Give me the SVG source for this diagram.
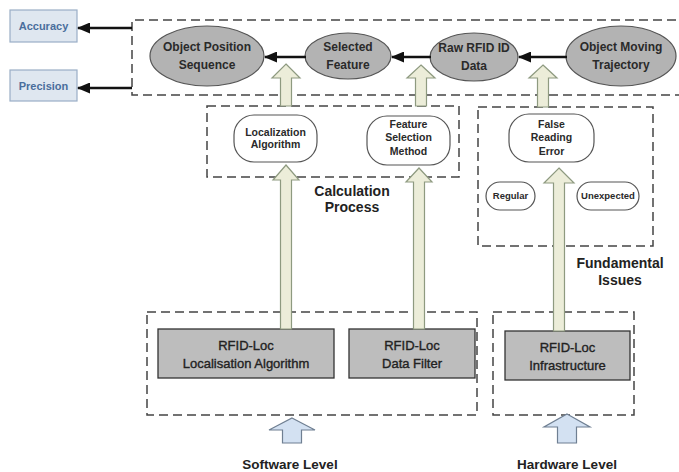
<svg xmlns="http://www.w3.org/2000/svg" width="679" height="472" viewBox="0 0 679 472">
<style>
text{font-family:"Liberation Sans",Arial,sans-serif;text-anchor:middle;}
.b{font-weight:bold;fill:#222;}
.dash{fill:none;stroke:#444;stroke-width:1.5;stroke-dasharray:9 5;}
.ell{fill:#b3b3b3;stroke:#555;stroke-width:1.2;}
.rr{fill:#fff;stroke:#555;stroke-width:1.2;}
.gr{fill:#bdbdbd;stroke:#333;stroke-width:1.3;}
.qual{fill:#dfe7f0;stroke:#9aaec6;stroke-width:1.2;}
.qt{font-weight:bold;fill:#4a6e9c;font-size:11px;}
.et{font-weight:bold;fill:#2a2a2a;font-size:12px;}
.st{font-weight:bold;fill:#2a2a2a;font-size:10.5px;}
.gt{fill:#222;font-size:13px;stroke:#222;stroke-width:0.35;}
.grn{fill:#ecedd9;stroke:#8e9a80;stroke-width:1.2;}
.blu{fill:#d3e1f2;stroke:#6f7f92;stroke-width:1.2;}
.con{stroke:#111;stroke-width:2.5;fill:none;marker-end:url(#ah);}
</style>
<defs>
<marker id="ah" markerUnits="userSpaceOnUse" markerWidth="13" markerHeight="11" refX="12" refY="5.5" orient="auto">
<path d="M0,0 L13,5.5 L0,11 Z" fill="#111"/>
</marker>
</defs>
<rect width="679" height="472" fill="#fff"/>

<g id="containers">
<path class="dash" d="M690,20 H132 V95 H690"/>
<rect class="dash" x="207" y="106" width="252" height="71"/>
<rect class="dash" x="478" y="107" width="175" height="139"/>
<rect class="dash" x="147" y="312" width="330" height="103"/>
<rect class="dash" x="493" y="312" width="141" height="103"/>
</g>

<g id="accuracy"><rect class="qual" x="10" y="10" width="67" height="32"/><text class="qt" x="43.5" y="30">Accuracy</text></g>
<g id="precision"><rect class="qual" x="10" y="70" width="67" height="31"/><text class="qt" x="43.5" y="90">Precision</text></g>

<g id="object-position-sequence"><ellipse class="ell" cx="207" cy="56" rx="57" ry="30"/><text class="et" x="207" y="51">Object Position</text><text class="et" x="207" y="69">Sequence</text></g>
<g id="selected-feature"><ellipse class="ell" cx="348" cy="56" rx="43" ry="23"/><text class="et" x="348" y="51">Selected</text><text class="et" x="348" y="69">Feature</text></g>
<g id="raw-rfid-id-data"><ellipse class="ell" cx="474" cy="57" rx="44" ry="24"/><text class="et" x="474" y="52">Raw RFID ID</text><text class="et" x="474" y="70">Data</text></g>
<g id="object-moving-trajectory"><ellipse class="ell" cx="621" cy="56" rx="55" ry="30"/><text class="et" x="621" y="51">Object Moving</text><text class="et" x="621" y="69">Trajectory</text></g>

<g id="localization-algorithm"><rect class="rr" x="234" y="115" width="83" height="47" rx="20"/><text class="st" x="275.5" y="136">Localization</text><text class="st" x="275.5" y="148">Algorithm</text></g>
<g id="feature-selection-method"><rect class="rr" x="367" y="116" width="83" height="49" rx="20"/><text class="st" x="408.5" y="128">Feature</text><text class="st" x="408.5" y="141">Selection</text><text class="st" x="408.5" y="155">Method</text></g>
<g id="false-reading-error"><rect class="rr" x="509" y="114" width="85" height="48" rx="20"/><text class="st" x="551.5" y="128">False</text><text class="st" x="551.5" y="141">Reading</text><text class="st" x="551.5" y="155">Error</text></g>
<g id="regular"><rect class="rr" x="486" y="182" width="49" height="28" rx="14"/><text class="st" style="font-size:9.5px" x="510.5" y="199">Regular</text></g>
<g id="unexpected"><rect class="rr" x="577" y="182" width="62" height="28" rx="14"/><text class="st" style="font-size:9.5px" x="608" y="199">Unexpected</text></g>

<g id="rfid-loc-localisation-algorithm"><rect class="gr" x="158" y="329" width="176" height="49"/><text class="gt" x="246" y="350">RFID-Loc</text><text class="gt" x="246" y="368">Localisation Algorithm</text></g>
<g id="rfid-loc-data-filter"><rect class="gr" x="349" y="329" width="126" height="49"/><text class="gt" x="412" y="350">RFID-Loc</text><text class="gt" x="412" y="368">Data Filter</text></g>
<g id="rfid-loc-infrastructure"><rect class="gr" x="505" y="331" width="125" height="49"/><text class="gt" x="567.5" y="352">RFID-Loc</text><text class="gt" x="567.5" y="370">Infrastructure</text></g>

<g id="labels">
<text class="b" style="font-size:14px" x="352" y="196">Calculation</text>
<text class="b" style="font-size:14px" x="352" y="212">Process</text>
<text class="b" style="font-size:14px" x="620" y="268">Fundamental</text>
<text class="b" style="font-size:14px" x="620" y="285">Issues</text>
<text class="b" style="font-size:13.5px" x="290" y="469">Software Level</text>
<text class="b" style="font-size:13.5px" x="567" y="469">Hardware Level</text>
</g>

<g id="connectors">
<line class="con" x1="132" y1="28" x2="78" y2="28"/>
<line class="con" x1="132" y1="88" x2="78" y2="88"/>
<line class="con" x1="306" y1="57" x2="265" y2="57"/>
<line class="con" x1="431" y1="57" x2="392" y2="57"/>
<line class="con" x1="567" y1="57" x2="519" y2="57"/>
<path class="grn" d="M286,64 L300,78 L291.5,78 L291.5,106 L280.5,106 L280.5,78 L272,78 Z"/>
<path class="grn" d="M421,65 L435,78 L426.5,78 L426.5,106 L415.5,106 L415.5,78 L407,78 Z"/>
<path class="grn" d="M543,65 L557,78 L548.5,78 L548.5,107 L537.5,107 L537.5,78 L529,78 Z"/>
<path class="grn" d="M286,165 L299,180 L291.5,180 L291.5,329 L280.5,329 L280.5,180 L273,180 Z"/>
<path class="grn" d="M419,168 L432,182 L424.5,182 L424.5,329 L413.5,329 L413.5,182 L406,182 Z"/>
<path class="grn" d="M559,168 L574,183 L564.5,183 L564.5,331 L553.5,331 L553.5,183 L544,183 Z"/>
<path class="blu" d="M292,418 L315,430 L301.5,430 L301.5,443 L282.5,443 L282.5,430 L269,430 Z"/>
<path class="blu" d="M567,414 L590,427 L576.5,427 L576.5,443 L557.5,443 L557.5,427 L544,427 Z"/>
</g>
</svg>
